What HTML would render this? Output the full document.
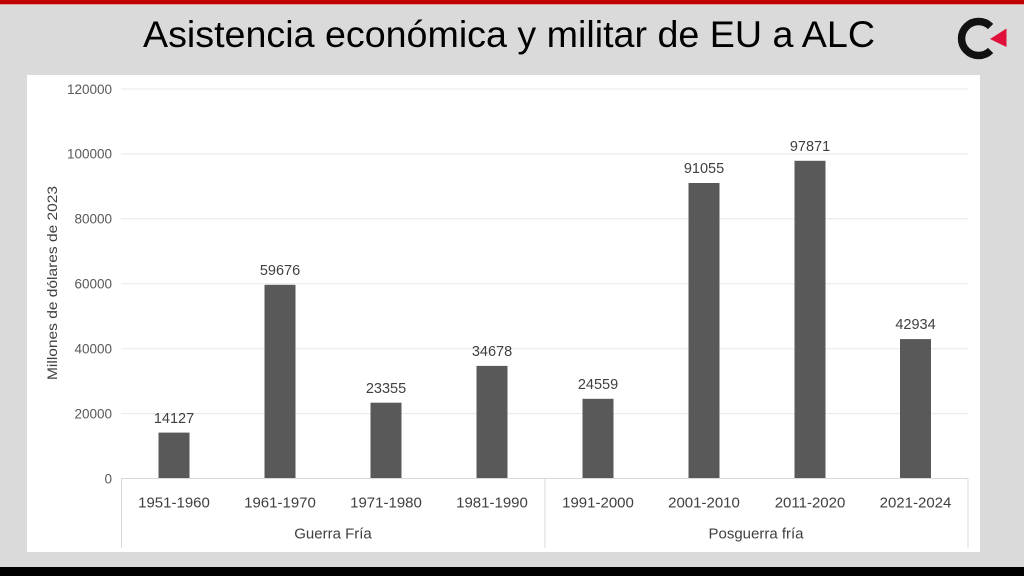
<!DOCTYPE html>
<html><head><meta charset="utf-8"><style>
html,body{margin:0;padding:0;}
body{width:1024px;height:576px;overflow:hidden;background:#dadada;}
svg{display:block;}
</style></head><body>
<svg width="1024" height="576" viewBox="0 0 1024 576" xmlns="http://www.w3.org/2000/svg" font-family="'Liberation Sans', sans-serif">
<rect x="0" y="0" width="1024" height="576" fill="#dadada"/>
<rect x="0" y="0" width="1024" height="4" fill="#c00000"/>
<rect x="0" y="4" width="1024" height="1" fill="#e89a9a"/>
<rect x="0" y="567" width="1024" height="9" fill="#000"/>
<text x="143" y="47" font-size="37.5" fill="#000" textLength="732" lengthAdjust="spacingAndGlyphs">Asistencia económica y militar de EU a ALC</text>
<!-- logo -->
<path d="M 990.6 26.5 A 17 17 0 1 0 990.6 50.5" fill="none" stroke="#111" stroke-width="7.5"/>
<polygon points="990,39 1006.5,28.5 1006.5,47" fill="#e0103a"/>
<!-- panel -->
<rect x="27" y="75" width="953" height="477" fill="#fff"/>
<!-- gridlines -->
<g stroke="#e8e8e8" stroke-width="1">
<line x1="121" x2="968" y1="89" y2="89"/>
<line x1="121" x2="968" y1="153.9" y2="153.9"/>
<line x1="121" x2="968" y1="218.8" y2="218.8"/>
<line x1="121" x2="968" y1="283.8" y2="283.8"/>
<line x1="121" x2="968" y1="348.7" y2="348.7"/>
<line x1="121" x2="968" y1="413.6" y2="413.6"/>
</g>
<g font-size="13.5" fill="#595959" text-anchor="end">
<text x="112" y="93.8">120000</text>
<text x="112" y="158.7">100000</text>
<text x="112" y="223.6">80000</text>
<text x="112" y="288.6">60000</text>
<text x="112" y="353.5">40000</text>
<text x="112" y="418.4">20000</text>
<text x="112" y="483.3">0</text>
</g>
<text transform="translate(57,283) rotate(-90)" font-size="14" fill="#404040" text-anchor="middle" textLength="194" lengthAdjust="spacingAndGlyphs">Millones de dólares de 2023</text>
<!-- bars -->
<g fill="#595959">
<rect x="158.5" y="432.6" width="31" height="45.9"/>
<rect x="264.5" y="284.8" width="31" height="193.7"/>
<rect x="370.5" y="402.7" width="31" height="75.8"/>
<rect x="476.5" y="365.9" width="31" height="112.6"/>
<rect x="582.5" y="398.8" width="31" height="79.7"/>
<rect x="688.5" y="183" width="31" height="295.5"/>
<rect x="794.5" y="160.8" width="31" height="317.7"/>
<rect x="900" y="339.1" width="31" height="139.4"/>
</g>
<g font-size="14.5" fill="#404040" text-anchor="middle">
<text x="174" y="423">14127</text>
<text x="280" y="275">59676</text>
<text x="386" y="393">23355</text>
<text x="492" y="356">34678</text>
<text x="598" y="389">24559</text>
<text x="704" y="173">91055</text>
<text x="810" y="151">97871</text>
<text x="915.5" y="329">42934</text>
</g>
<!-- axis box -->
<g stroke="#d9d9d9" stroke-width="1">
<line x1="121" x2="968" y1="478.5" y2="478.5"/>
<line x1="121.5" x2="121.5" y1="478.5" y2="548"/>
<line x1="545" x2="545" y1="478.5" y2="548"/>
<line x1="968" x2="968" y1="478.5" y2="548"/>
</g>
<g font-size="15" fill="#404040" text-anchor="middle">
<text x="174" y="507.5">1951-1960</text>
<text x="280" y="507.5">1961-1970</text>
<text x="386" y="507.5">1971-1980</text>
<text x="492" y="507.5">1981-1990</text>
<text x="598" y="507.5">1991-2000</text>
<text x="704" y="507.5">2001-2010</text>
<text x="810" y="507.5">2011-2020</text>
<text x="915.5" y="507.5">2021-2024</text>
<text x="333" y="538.5">Guerra Fría</text>
<text x="756" y="538.5">Posguerra fría</text>
</g>
</svg>
</body></html>
